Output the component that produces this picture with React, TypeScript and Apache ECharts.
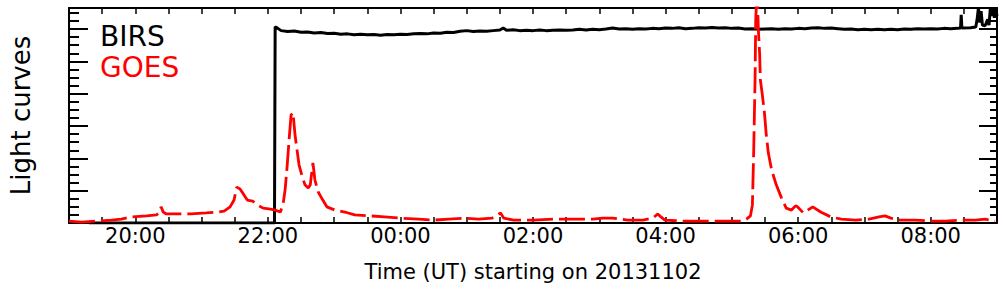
import React, { useEffect, useRef } from "react";
import * as echarts from "echarts";

// Time in hours counted from 00:00 of 2013-11-02 (values > 24 belong to 2013-11-03)
const goesTime = [
  19.0, 19.19, 19.42, 19.64, 19.79, 19.94, 20.17, 20.32, 20.36, 20.39, 20.42, 20.47, 20.62, 20.84,
  21.07, 21.25, 21.34, 21.43, 21.49, 21.53, 21.58, 21.63, 21.69, 21.77, 21.84, 21.93, 22.04, 22.11,
  22.19, 22.23, 22.26, 22.29, 22.32, 22.35, 22.38, 22.41, 22.44, 22.47, 22.52, 22.56, 22.61, 22.64,
  22.67, 22.68, 22.71, 22.76, 22.82, 22.89, 23.01, 23.16, 23.31, 23.54, 23.76, 24.01, 24.28, 24.51,
  24.73, 24.96, 25.18, 25.38, 25.45, 25.51, 25.56, 25.71, 26.01, 26.31, 26.6, 26.9, 27.05, 27.2,
  27.43, 27.66, 27.81, 27.88, 27.93, 27.99, 28.25, 28.55, 28.85, 29.15, 29.22, 29.28, 29.31, 29.33,
  29.35, 29.36, 29.38, 29.4, 29.42, 29.43, 29.46, 29.49, 29.52, 29.55, 29.6, 29.67, 29.75, 29.82,
  29.9, 29.96, 29.99, 30.08, 30.22, 30.34, 30.49, 30.65, 30.87, 31.07, 31.22, 31.31, 31.4, 31.54,
  31.77, 31.99, 32.22, 32.44, 32.67, 32.82, 32.97,
];
const goesValue = [
  0.06, 0.03, 0.06, 0.09, 0.12, 0.19, 0.22, 0.25, 0.31, 0.5, 0.34, 0.28, 0.28, 0.28,
  0.31, 0.34, 0.37, 0.5, 0.71, 1.11, 1.05, 0.9, 0.71, 0.68, 0.56, 0.46, 0.43, 0.4,
  0.34, 0.59, 1.02, 1.73, 2.57, 3.34, 3.41, 2.72, 2.26, 1.8, 1.42, 1.18, 1.08, 1.18,
  1.7, 1.86, 1.33, 0.96, 0.74, 0.5, 0.4, 0.34, 0.25, 0.22, 0.19, 0.15, 0.12, 0.09,
  0.12, 0.15, 0.12, 0.15, 0.22, 0.31, 0.15, 0.09, 0.09, 0.12, 0.12, 0.12, 0.15, 0.15,
  0.09, 0.09, 0.15, 0.28, 0.19, 0.09, 0.06, 0.06, 0.06, 0.06, 0.12, 0.22, 0.56, 2.26,
  4.43, 6.28, 7.2, 5.98, 5.2, 4.43, 3.96, 3.44, 2.72, 2.17, 1.64, 1.18, 0.77, 0.46,
  0.4, 0.53, 0.5, 0.31, 0.5, 0.34, 0.19, 0.12, 0.09, 0.12, 0.19, 0.22, 0.15, 0.09,
  0.09, 0.06, 0.06, 0.09, 0.09, 0.12, 0.06,
];

const birsTime = [
  19.3, 22.1, 22.11, 22.15, 22.2, 22.3, 22.4, 22.5, 22.6, 22.7, 22.8, 22.9, 23.0, 23.1, 23.2, 23.3,
  23.4, 23.5, 23.6, 23.7, 23.8, 23.9, 24.0, 24.1, 24.2, 24.3, 24.4, 24.5, 24.6, 24.7, 24.8, 24.9,
  25.0, 25.1, 25.2, 25.3, 25.4, 25.5, 25.55, 25.6, 25.7, 25.8, 25.9, 26.0, 26.1, 26.2, 26.3, 26.4,
  26.5, 26.6, 26.7, 26.8, 26.9, 27.0, 27.1, 27.2, 27.3, 27.4, 27.5, 27.6, 27.7, 27.8, 27.9, 28.0,
  28.1, 28.2, 28.3, 28.4, 28.5, 28.6, 28.7, 28.8, 28.9, 29.0, 29.1, 29.2, 29.3, 29.4, 29.5, 29.6,
  29.7, 29.8, 29.9, 30.0, 30.1, 30.2, 30.3, 30.4, 30.5, 30.6, 30.7, 30.8, 30.9, 31.0, 31.1, 31.2,
  31.3, 31.4, 31.5, 31.6, 31.7, 31.8, 31.9, 32.0, 32.1, 32.2, 32.3, 32.4, 32.45, 32.46, 32.47, 32.6,
  32.68, 32.7, 32.72, 32.74, 32.76, 32.78, 32.82, 32.86, 32.88, 32.9, 32.92, 32.94, 32.96, 32.98, 33.0,
];
const birsValue = [
  0, 0, 6.07, 6.02, 5.95, 5.92, 5.94, 5.9, 5.91, 5.88, 5.89, 5.86, 5.87, 5.84, 5.85, 5.82,
  5.84, 5.82, 5.83, 5.81, 5.83, 5.82, 5.84, 5.83, 5.85, 5.86, 5.85, 5.88, 5.87, 5.9, 5.89, 5.93,
  5.95, 5.92, 5.94, 5.93, 5.95, 5.97, 6.03, 5.96, 5.98, 5.95, 5.96, 5.95, 5.97, 5.95, 5.96, 5.97,
  5.96, 5.97, 5.99, 5.97, 5.99, 5.98, 6.0, 6.03, 6.0, 6.01, 5.99, 6.01, 6.0, 6.02, 6.01, 6.03,
  6.02, 6.04, 6.01, 6.02, 6.04, 6.03, 6.05, 6.03, 6.04, 6.02, 6.03, 6.0, 6.01, 5.99, 6.0, 6.01,
  5.99, 6.01, 6.0, 6.02, 6.01, 6.03, 6.04, 6.02, 6.03, 6.01, 5.99, 6.0, 5.98, 5.99, 5.98, 5.99,
  5.98, 5.99, 5.98, 6.0, 5.99, 6.01, 6.0, 6.01, 6.0, 6.02, 6.01, 6.02, 6.03, 6.44, 6.03, 6.04,
  6.06, 6.3, 6.66, 6.2, 6.55, 6.12, 6.1, 6.3, 6.12, 6.66, 6.4, 6.66, 6.35, 6.62, 6.4,
];

const seriesNames = ["BIRS", "GOES"];
const xTitle = "Time (UT) starting on 20131102";
const yTitle = "Light curves";

const FONT = "DejaVu Sans";

function hourLabel(v: number): string {
  if (Math.abs(v - Math.round(v)) > 1e-6) return "";
  const h = Math.round(v);
  if (h % 2 !== 0) return "";
  const hh = h % 24;
  return (hh < 10 ? "0" : "") + hh + ":00";
}

export default function App() {
  const ref = useRef<HTMLDivElement>(null);
  useEffect(() => {
    if (!ref.current) return;
    const chart = echarts.init(ref.current, undefined, { renderer: "svg" });
    const pair = (t: number[], v: number[]) => t.map((x, i) => [x, v[i]]);
    const yBase = {
      type: "value" as const,
      min: 0,
      max: 6.65,
      axisLabel: { show: false },
      splitLine: { show: false },
    };
    const xBase = {
      type: "value" as const,
      min: 19,
      max: 33,
      interval: 0.5,
      splitLine: { show: false },
    };
    chart.setOption({
      animation: false,
      backgroundColor: "#ffffff",
      grid: { left: 62, right: 7, top: 8, bottom: 73, containLabel: false },
      xAxis: [
        {
          ...xBase,
          position: "bottom",
          axisLine: { show: true, onZero: false, lineStyle: { color: "#000", width: 2 } },
          axisTick: { show: true, inside: true, length: 6, lineStyle: { color: "#000", width: 1.5 } },
          axisLabel: {
            show: true,
            formatter: (v: number) => hourLabel(v),
            color: "#000",
            fontFamily: FONT,
            fontSize: 21,
            margin: 2,
            showMinLabel: true,
            showMaxLabel: true,
          },
          name: xTitle,
          nameLocation: "middle",
          nameGap: 38,
          nameTextStyle: { color: "#000", fontFamily: FONT, fontSize: 21 },
        },
        {
          ...xBase,
          position: "top",
          axisLine: { show: true, onZero: false, lineStyle: { color: "#000", width: 2 } },
          axisTick: { show: true, inside: true, length: 6, lineStyle: { color: "#000", width: 1.5 } },
          axisLabel: { show: false },
        },
      ],
      yAxis: [
        {
          ...yBase,
          position: "left",
          interval: 1,
          axisLine: { show: true, lineStyle: { color: "#000", width: 2 } },
          axisTick: { show: true, inside: true, length: 19, lineStyle: { color: "#000", width: 2 } },
          name: yTitle,
          nameLocation: "middle",
          nameGap: 35,
          nameTextStyle: { color: "#000", fontFamily: FONT, fontSize: 26 },
        },
        {
          ...yBase,
          position: "left",
          interval: 0.25,
          axisLine: { show: false },
          axisTick: { show: true, inside: true, length: 10, lineStyle: { color: "#000", width: 2 } },
        },
        {
          ...yBase,
          position: "right",
          interval: 1,
          axisLine: { show: true, lineStyle: { color: "#000", width: 2 } },
          axisTick: { show: true, inside: true, length: 18, lineStyle: { color: "#000", width: 2 } },
        },
        {
          ...yBase,
          position: "right",
          interval: 0.25,
          axisLine: { show: false },
          axisTick: { show: true, inside: true, length: 7, lineStyle: { color: "#000", width: 2 } },
        },
      ],
      graphic: [
        {
          type: "text",
          left: 100,
          top: 22,
          style: { text: seriesNames[0], fill: "#000", font: `28px "${FONT}"` },
        },
        {
          type: "text",
          left: 100,
          top: 53,
          style: { text: seriesNames[1], fill: "#ff0000", font: `28px "${FONT}"` },
        },
      ],
      series: [
        {
          name: seriesNames[0],
          type: "line",
          data: pair(birsTime, birsValue),
          showSymbol: false,
          clip: true,
          z: 2,
          lineStyle: { color: "#000", width: 3 },
        },
        {
          name: seriesNames[1],
          type: "line",
          data: pair(goesTime, goesValue),
          showSymbol: false,
          clip: true,
          z: 3,
          lineStyle: { color: "#ff0000", width: 2.8, type: [26, 6] },
        },
      ],
    });
    return () => chart.dispose();
  }, []);
  return (
    <div
      ref={ref}
      style={{ position: "absolute", left: 0, top: 0, width: 1004, height: 296, background: "#fff" }}
    />
  );
}
